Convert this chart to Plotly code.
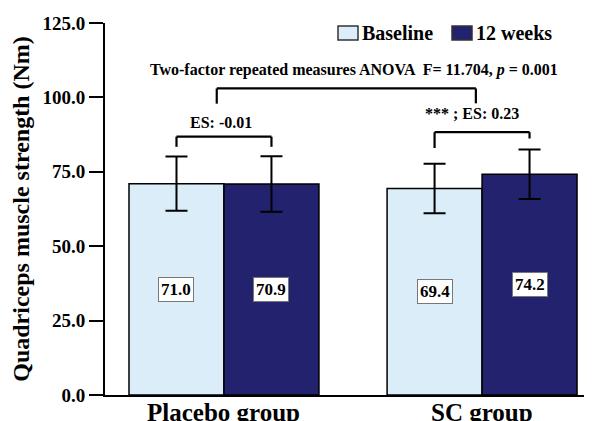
import plotly.graph_objects as go

groups = ["Placebo group", "SC group"]
baseline = [71.0, 69.4]
week12 = [70.9, 74.2]
sd_baseline = [9.1, 8.3]
sd_week12 = [9.3, 8.3]
series_names = ["Baseline", "12 weeks"]
y_ticks = [0, 25, 50, 75, 100, 125]

LIGHT = "#DAEDF8"
DARK = "#23226F"
FONT = "Liberation Serif"
BARGAP = 0.264
half = (1 - BARGAP) / 4  # offset of each bar centre from category centre

# page body has an 8px margin; plot area in page pixels: x 105..592, y 23..395
PX0, PX1, PY0, PY1 = 105, 592, 23, 395
def px(xp):
    return (xp - PX0) / (PX1 - PX0)
def py(yp):
    return (PY1 - yp) / (PY1 - PY0)

fig = go.Figure()
for name, vals, sds, col in [(series_names[0], baseline, sd_baseline, LIGHT),
                             (series_names[1], week12, sd_week12, DARK)]:
    fig.add_trace(go.Bar(
        x=groups, y=vals, name=name, showlegend=False,
        marker=dict(color=col, line=dict(color="black", width=1.5)),
        error_y=dict(type="data", array=sds, visible=True, color="black",
                     thickness=2, width=11),
    ))

anns = []
shapes = []

# value labels inside bars
for gi in range(len(groups)):
    for vals, off in [(baseline, -half), (week12, half)]:
        anns.append(dict(x=gi + off, y=vals[gi] / 2, xref="x", yref="y",
                         text=f"<b>{vals[gi]:.1f}</b>", showarrow=False,
                         font=dict(family=FONT, size=17, color="black"),
                         bgcolor="white", bordercolor="#777777", borderwidth=1,
                         borderpad=2))

# x category labels
for gi, g in enumerate(groups):
    anns.append(dict(x=gi, y=0, xref="x", yref="paper", yanchor="top", yshift=-2,
                     text=f"<b>{g}</b>", showarrow=False,
                     font=dict(family=FONT, size=25, color="black")))

# custom legend
for (x0, x1), name, col in [((338, 358), series_names[0], LIGHT),
                            ((452, 472), series_names[1], DARK)]:
    shapes.append(dict(type="rect", xref="paper", yref="paper",
                       x0=px(x0), x1=px(x1), y0=py(40), y1=py(26),
                       fillcolor=col, line=dict(color="#333333", width=1.5)))
    anns.append(dict(x=px(x1 + 2), y=py(33), xref="paper", yref="paper",
                     xanchor="left", yanchor="middle", showarrow=False,
                     text=f"<b>{name}</b>", font=dict(family=FONT, size=20, color="black")))

# brackets
line = dict(color="black", width=2.2)
def seg(x0, y0, x1, y1):
    shapes.append(dict(type="line", xref="x", yref="y", x0=x0, y0=y0, x1=x1, y1=y1, line=line))

seg(-half, 83.4, -half, 86.8); seg(half, 83.4, half, 86.8); seg(-half, 86.8, half, 86.8)
seg(1 - half, 83.0, 1 - half, 88.3); seg(1 + half, 86.2, 1 + half, 88.3); seg(1 - half, 88.3, 1 + half, 88.3)
seg(-0.028, 97.9, -0.028, 103.0); seg(0.976, 98.0, 0.976, 103.0); seg(-0.028, 103.0, 0.976, 103.0)

anns += [
    dict(x=-0.01, y=91.6, xref="x", yref="y", showarrow=False,
         text="<b>ES: -0.01</b>", font=dict(family=FONT, size=16, color="black")),
    dict(x=0.961, y=94.6, xref="x", yref="y", showarrow=False,
         text="<b>*** ; ES: 0.23</b>", font=dict(family=FONT, size=16, color="black")),
    dict(x=0.504, y=109.2, xref="x", yref="y", showarrow=False,
         text="<b>Two-factor repeated measures ANOVA  F= 11.704, <i>p</i> = 0.001</b>",
         font=dict(family=FONT, size=16, color="black")),
]

fig.update_layout(
    width=584, height=413,
    margin=dict(l=97, r=0, t=15, b=26, autoexpand=False),
    paper_bgcolor="white", plot_bgcolor="white",
    barmode="group", bargap=BARGAP, bargroupgap=0,
    font=dict(family=FONT, color="black"),
    showlegend=False,
    shapes=shapes, annotations=anns,
)
fig.update_xaxes(
    range=[-0.461, 1.426], showline=True, linecolor="black", linewidth=2,
    ticks="", showgrid=False, zeroline=False, showticklabels=False, automargin=False,
)
fig.update_yaxes(
    range=[0, 125], tickvals=y_ticks, tickformat=".1f", automargin=False,
    showline=True, linecolor="black", linewidth=2,
    ticks="outside", ticklen=14, tickwidth=2, tickcolor="black",
    showgrid=False, zeroline=False,
    tickfont=dict(family=FONT, size=19, color="black", weight="bold"),
    title=dict(text="Quadriceps muscle strength (Nm)",
               font=dict(family=FONT, size=24, color="black", weight="bold"),
               standoff=6),
)

fig.write_html("out.html")
